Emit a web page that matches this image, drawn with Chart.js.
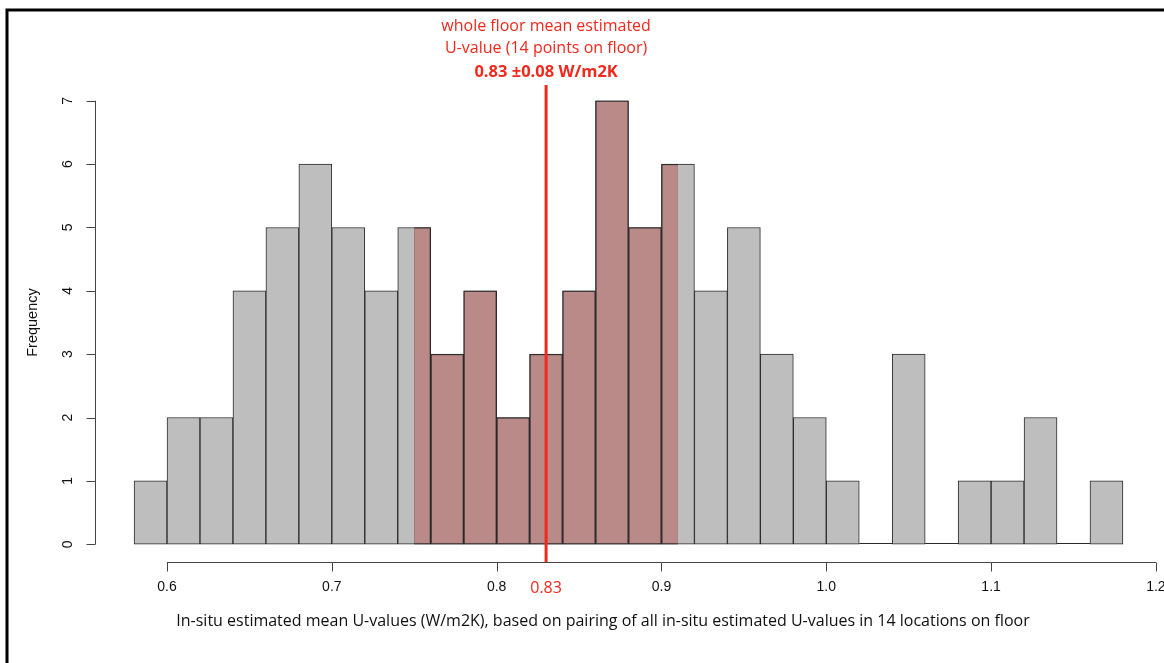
<!DOCTYPE html>
<html>
<head>
<meta charset="utf-8">
<script src="https://cdn.jsdelivr.net/npm/chart.js@4"></script>
<style>
  html, body { margin: 0; background: #fff; }
  canvas { display: block; }
</style>
</head>
<body>
<canvas id="chart" width="1164" height="663"></canvas>
<script>
// histogram bins (mid points, width 0.02) and counts
const binMids = [0.59, 0.61, 0.63, 0.65, 0.67, 0.69, 0.71, 0.73, 0.75, 0.77,
                 0.79, 0.81, 0.83, 0.85, 0.87, 0.89, 0.91, 0.93, 0.95, 0.97,
                 0.99, 1.01, 1.03, 1.05, 1.07, 1.09, 1.11, 1.13, 1.15, 1.17];
const freq = [1, 2, 2, 4, 5, 6, 5, 4, 5, 3,
              4, 2, 3, 4, 7, 5, 6, 4, 5, 3,
              2, 1, 0, 3, 0, 1, 1, 2, 0, 1];

const xTicks = [0.6, 0.7, 0.8, 0.9, 1.0, 1.1, 1.2];
const xTickLabels = ['0.6', '0.7', '0.8', '0.9', '1.0', '1.1', '1.2'];
const yTicks = [0, 1, 2, 3, 4, 5, 6, 7];

// whole floor mean and its spread (shaded band)
const meanU = 0.83;
const spreadU = 0.08;
const meanLabel = '0.83';
const noteLines = ['whole floor mean estimated', 'U-value (14 points on floor)', '0.83 \u00b10.08 W/m2K'];

const xTitle = 'In-situ estimated mean U-values (W/m2K), based on pairing of all in-situ estimated U-values in 14 locations on floor';
const yTitle = 'Frequency';

const red = '#f2281c';
const barGrey = '#bebebe';
const bandRed = '#b98a88';
const edge = '#2a2a2a';

// shade the part of each bar lying inside mean +/- spread
const bandPlugin = {
  id: 'band',
  afterDatasetsDraw(chart) {
    const {ctx, scales: {x}} = chart;
    const x0 = x.getPixelForValue(meanU - spreadU);
    const x1 = x.getPixelForValue(meanU + spreadU);
    const meta = chart.getDatasetMeta(0);
    ctx.save();
    ctx.beginPath();
    ctx.rect(x0, 0, x1 - x0, chart.height);
    ctx.clip();
    meta.data.forEach(bar => {
      const p = bar.getProps(['x', 'y', 'base', 'width'], true);
      const h = p.base - p.y;
      if (h <= 0) return;
      const l = p.x - p.width / 2;
      ctx.fillStyle = edge;
      ctx.fillRect(l, p.y, p.width, h);
      ctx.fillStyle = bandRed;
      ctx.fillRect(l + 1, p.y + 1, p.width - 2, h - 2);
    });
    ctx.restore();
  }
};

// R-style axes, titles, mean line and notes
const decorPlugin = {
  id: 'decor',
  afterDraw(chart) {
    const {ctx, scales: {x, y}, chartArea: area} = chart;
    ctx.save();

    // zero-count bins show as a line on the baseline
    const meta = chart.getDatasetMeta(0);
    ctx.strokeStyle = edge;
    ctx.lineWidth = 1;
    ctx.beginPath();
    meta.data.forEach((bar, i) => {
      if (freq[i] !== 0) return;
      const p = bar.getProps(['x', 'base', 'width'], true);
      const by = Math.round(p.base) - 0.5;
      ctx.moveTo(p.x - p.width / 2, by);
      ctx.lineTo(p.x + p.width / 2, by);
    });
    ctx.stroke();

    ctx.strokeStyle = '#444';
    ctx.lineWidth = 1;

    // x axis
    const xb = Math.round(area.bottom) + 0.5;
    ctx.beginPath();
    ctx.moveTo(x.getPixelForValue(xTicks[0]), xb);
    ctx.lineTo(x.getPixelForValue(xTicks[xTicks.length - 1]), xb);
    xTicks.forEach(t => {
      const px = Math.round(x.getPixelForValue(t)) + 0.5;
      ctx.moveTo(px, xb);
      ctx.lineTo(px, xb + 9);
    });
    ctx.stroke();

    ctx.fillStyle = '#111';
    ctx.font = '14px "Liberation Sans", Arial, sans-serif';
    ctx.textAlign = 'center';
    ctx.textBaseline = 'middle';
    xTicks.forEach((t, i) => {
      ctx.fillText(xTickLabels[i], x.getPixelForValue(t), xb + 25);
    });

    // y axis
    const yl = Math.round(area.left) + 0.5;
    ctx.beginPath();
    ctx.moveTo(yl, y.getPixelForValue(yTicks[0]));
    ctx.lineTo(yl, y.getPixelForValue(yTicks[yTicks.length - 1]));
    yTicks.forEach(t => {
      const py = Math.round(y.getPixelForValue(t)) + 0.5;
      ctx.moveTo(yl, py);
      ctx.lineTo(yl - 9, py);
    });
    ctx.stroke();

    yTicks.forEach(t => {
      ctx.save();
      ctx.translate(yl - 27, y.getPixelForValue(t));
      ctx.rotate(-Math.PI / 2);
      ctx.fillText(String(t), 0, 0);
      ctx.restore();
    });

    // y title
    ctx.save();
    ctx.translate(33, (area.top + area.bottom) / 2);
    ctx.rotate(-Math.PI / 2);
    ctx.font = '14.5px "Liberation Sans", Arial, sans-serif';
    ctx.fillText(yTitle, 0, 0);
    ctx.restore();

    // x title
    ctx.font = '16px "Open Sans", sans-serif';
    ctx.fillStyle = '#111';
    ctx.fillText(xTitle, 603, 621);

    // mean line
    const mx = x.getPixelForValue(meanU);
    ctx.strokeStyle = red;
    ctx.lineWidth = 3;
    ctx.beginPath();
    ctx.moveTo(mx, 85);
    ctx.lineTo(mx, area.bottom);
    ctx.stroke();

    ctx.fillStyle = red;
    ctx.font = '16px "Open Sans", sans-serif';
    ctx.fillText(meanLabel, mx, xb + 26);

    ctx.font = '16px "Open Sans", sans-serif';
    ctx.fillText(noteLines[0], mx, 26);
    ctx.fillText(noteLines[1], mx, 48);
    ctx.font = 'bold 16.5px "Open Sans", sans-serif';
    ctx.fillText(noteLines[2], mx, 72);

    // frame (top and left edges)
    ctx.strokeStyle = '#000';
    ctx.lineWidth = 3;
    ctx.beginPath();
    ctx.moveTo(7, chart.height);
    ctx.lineTo(7, 10);
    ctx.lineTo(chart.width, 10);
    ctx.stroke();

    ctx.restore();
  }
};

const chart = new Chart(document.getElementById('chart'), {
  type: 'bar',
  data: {
    datasets: [{
      data: binMids.map((m, i) => ({x: m, y: freq[i]})),
      backgroundColor: barGrey,
      borderColor: edge,
      borderWidth: 1,
      borderSkipped: false,
      barPercentage: 1,
      categoryPercentage: 1
    }]
  },
  options: {
    responsive: false,
    animation: false,
    layout: {padding: {left: 94.5, right: 1.5, top: 83, bottom: 101}},
    plugins: {legend: {display: false}, tooltip: {enabled: false}},
    scales: {
      x: {type: 'linear', display: false, offset: false, min: 0.556, max: 1.204},
      y: {display: false, min: -0.28, max: 7.28}
    }
  },
  plugins: [bandPlugin, decorPlugin]
});
</script>
</body>
</html>
